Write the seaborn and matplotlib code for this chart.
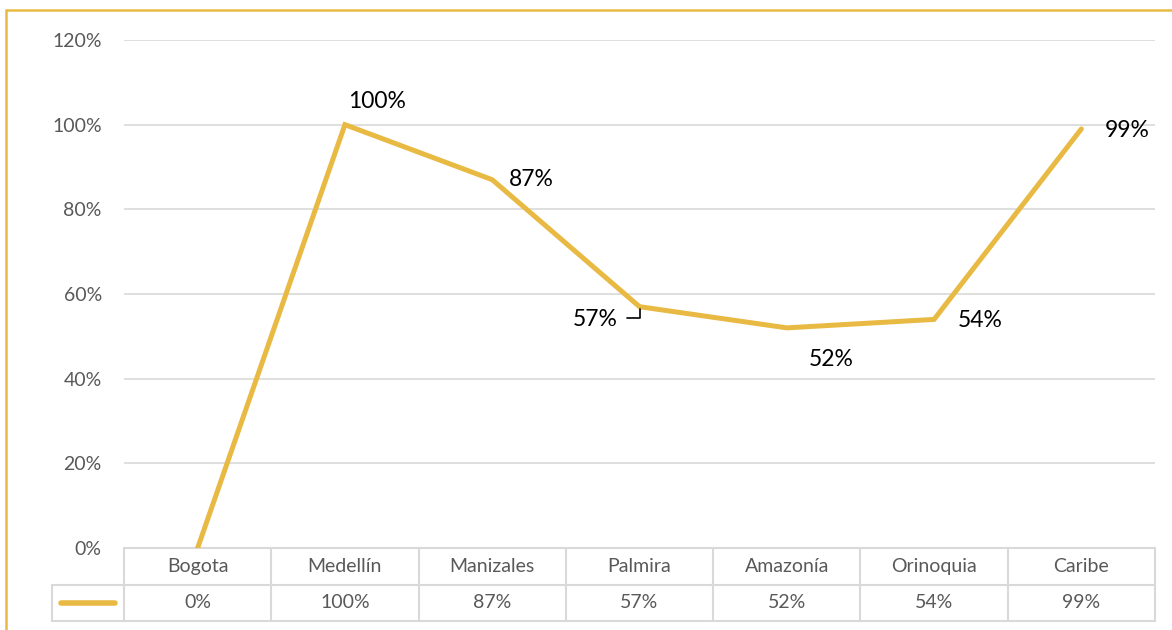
import numpy as np
import pandas as pd
import seaborn as sns
import matplotlib.pyplot as plt
from matplotlib.patches import Rectangle

# datos
regiones = ["Bogota", "Medellín", "Manizales", "Palmira", "Amazonía", "Orinoquia", "Caribe"]
valores = [0.00, 1.00, 0.87, 0.57, 0.52, 0.54, 0.99]
etiquetas = ["0%", "100%", "87%", "57%", "52%", "54%", "99%"]
y_ticks = [0.0, 0.2, 0.4, 0.6, 0.8, 1.0, 1.2]
y_labels = ["0%", "20%", "40%", "60%", "80%", "100%", "120%"]

sns.set_theme(style="white")
plt.rcParams["font.family"] = ["Lato", "DejaVu Sans"]

gold = "#E8BA43"
grid = "#D9D9D9"
gray_txt = "#595959"

df = pd.DataFrame({"pos": np.arange(len(regiones)), "valor": valores})

fig = plt.figure(figsize=(11.72, 6.3), dpi=100)
ax = fig.add_axes([124 / 1172, 1 - 548 / 630, (1155 - 124) / 1172, (548 - 40) / 630])

sns.lineplot(data=df, x="pos", y="valor", ax=ax, color=gold, linewidth=3.6,
             solid_joinstyle="miter", zorder=3)

ax.set_xlim(-0.5, len(regiones) - 0.5)
ax.set_ylim(0, 1.2)
ax.set_yticks(y_ticks)
ax.set_yticklabels(y_labels, color=gray_txt, fontsize=14)
ax.tick_params(axis="y", length=0, pad=16)
ax.set_xticks([])
ax.set_xlabel("")
ax.set_ylabel("")
for t in y_ticks[1:]:
    ax.axhline(t, color=grid, lw=1.2, zorder=1)
for s in ax.spines.values():
    s.set_visible(False)

# etiquetas de datos (desplazamientos en puntos)
offsets = {1: (23, 17, "center"),
           2: (12, 0, "left"),
           3: (-32, -9, "center"),
           4: (32, -23, "center"),
           5: (17, -1, "left"),
           6: (17, -1, "left")}
for i, (v, lab) in enumerate(zip(valores, etiquetas)):
    if i == 0:
        continue
    dx, dy, ha = offsets[i]
    ax.annotate(lab, xy=(i, v), xytext=(dx, dy), textcoords="offset points",
                ha=ha, va="center", fontsize=16.5, color="black")

# línea guía de la etiqueta de Palmira
ax.annotate("", xy=(3, valores[3]), xytext=(-9, -8), textcoords="offset points",
            arrowprops=dict(arrowstyle="-", color="black", lw=1.2,
                            connectionstyle="angle,angleA=0,angleB=90,rad=0",
                            shrinkA=0, shrinkB=1.5))

# tabla de datos bajo el eje
tr = ax.get_xaxis_transform()
h1 = -37 / 508
h2 = -73 / 508
left_leg = -0.99
n = len(regiones)
line_kw = dict(color=grid, lw=1.5, transform=tr, clip_on=False, zorder=2)
ax.plot([-0.5, n - 0.5], [0, 0], **line_kw)
ax.plot([left_leg, n - 0.5], [h1, h1], **line_kw)
ax.plot([left_leg, n - 0.5], [h2, h2], **line_kw)
ax.plot([left_leg, left_leg], [h1, h2], **line_kw)
for k in range(n + 1):
    ax.plot([k - 0.5, k - 0.5], [0, h2], **line_kw)
for k, (reg, lab) in enumerate(zip(regiones, etiquetas)):
    ax.text(k, h1 / 2, reg, transform=tr, ha="center", va="center",
            fontsize=14, color=gray_txt, clip_on=False)
    ax.text(k, (h1 + h2) / 2, lab, transform=tr, ha="center", va="center",
            fontsize=14, color=gray_txt, clip_on=False)
ax.plot([left_leg + 0.06, -0.56], [(h1 + h2) / 2] * 2, color=gold, lw=4,
        solid_capstyle="round", transform=tr, clip_on=False)

# borde del gráfico
fig.patches.append(Rectangle((6 / 1172, -0.1), 1.2, 1 - 10 / 630 + 0.1,
                             transform=fig.transFigure, fill=False,
                             edgecolor=gold, lw=1.8))

fig.savefig("out.png", dpi=100)
